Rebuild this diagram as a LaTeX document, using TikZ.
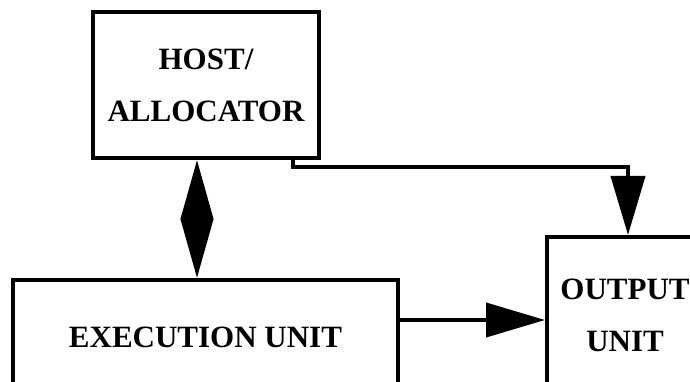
\documentclass[tikz,border=0pt]{standalone}
\usepackage{fontspec}
\setmainfont{Liberation Serif}
\usetikzlibrary{arrows.meta}
\begin{document}
\begin{tikzpicture}[x=1pt, y=-1pt,
    unit/.style={rectangle, draw, line width=4pt, align=center, inner sep=0pt,
        font=\bfseries\fontsize{31}{52}\selectfont},
    arr/.style={line width=4pt, -{Triangle[length=59pt, width=34pt]}},
    dblarr/.style={line width=4pt, {Triangle[length=59pt, width=32pt]}-{Triangle[length=59pt, width=32pt]}},
]
    \useasboundingbox (0,0) rectangle (690,382);
    \clip (0,0) rectangle (690,382);

    % Units
    \node[unit, minimum width=226pt, minimum height=146pt] (host) at (206,85) {HOST/\\ALLOCATOR};
    \node[unit, minimum width=385pt, minimum height=114pt] (exec) at (205.5,337) {EXECUTION UNIT};
    \node[unit, minimum width=156pt, minimum height=156pt] (out) at (625,315) {OUTPUT\\UNIT};

    % Connections
    \draw[dblarr] ([xshift=-9pt]host.south) -- ([xshift=-8.5pt]exec.north);
    \draw[arr] ([xshift=87pt]host.south) -- ++(0,7) -| ([xshift=3pt]out.north);
    \draw[arr] ([yshift=17pt]exec.east) -- ([yshift=17pt]exec.east -| out.west);
\end{tikzpicture}
\end{document}
